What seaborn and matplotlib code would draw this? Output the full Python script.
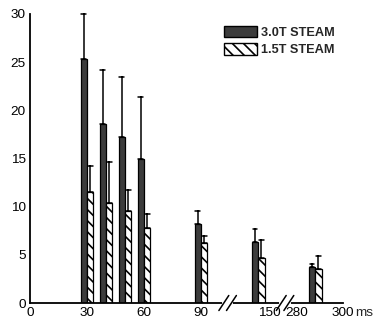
import numpy as np
import pandas as pd
import seaborn as sns
import matplotlib.pyplot as plt
from matplotlib.patches import Patch
import matplotlib.transforms as mtransforms

# echo times (ms) and signal values
te_ms = [30, 40, 50, 60, 90, 144, 288]
steam_3t = [25.3, 18.6, 17.2, 15.0, 8.2, 6.3, 3.7]
steam_3t_sd = [4.7, 5.6, 6.3, 6.4, 1.4, 1.4, 0.3]
steam_15t = [11.5, 10.4, 9.5, 7.8, 6.2, 4.7, 3.5]
steam_15t_sd = [2.7, 4.2, 2.2, 1.4, 0.8, 1.8, 1.4]
series = ["3.0T STEAM", "1.5T STEAM"]
xtick_ms = [0, 30, 60, 90, 150, 280, 300]
yticks = [0, 5, 10, 15, 20, 25, 30]

# broken x axis: ms -> axis position (two breaks)
break_ms = [0, 104, 128, 158, 275, 300]
break_pos = [0, 104, 104, 134.2, 134.2, 164.7]
gap_ms = [104, 158]


def to_axis(ms):
    return np.interp(ms, break_ms, break_pos)


# long table: bar height = min, error bar runs up to mean + sd
rows = []
for name, vals, sds in [(series[0], steam_3t, steam_3t_sd), (series[1], steam_15t, steam_15t_sd)]:
    for t, v, s in zip(te_ms, vals, sds):
        rows.append({"pos": to_axis(t), "val": v, "series": name})
        rows.append({"pos": to_axis(t), "val": v + s, "series": name})
df = pd.DataFrame(rows)

sns.set_style("white")
plt.rcParams["font.family"] = ["Liberation Sans", "DejaVu Sans"]
plt.rcParams["hatch.linewidth"] = 1.2

fig = plt.figure(figsize=(3.74, 3.26), dpi=100)
ax = fig.add_axes([30 / 374, 23 / 326, 313 / 374, 289 / 326])

sns.barplot(
    data=df, x="pos", y="val", hue="series", hue_order=series,
    native_scale=True, estimator="min",
    errorbar=lambda v: (v.min(), v.max()),
    palette=["#3c3c3c", "white"], edgecolor="black", linewidth=0.9,
    width=0.68, capsize=0.5,
    err_kws={"color": "black", "linewidth": 1.1},
    legend=False, ax=ax,
)
for p in ax.patches:
    if p.get_facecolor()[0] > 0.9:
        p.set_hatch("\\\\\\")
for ln in ax.lines:
    ln.set_clip_on(False)

ax.set_xlim(0, to_axis(300))
ax.set_ylim(0, 30)
ax.set_xticks(to_axis(xtick_ms))
ax.set_xticklabels([str(t) for t in xtick_ms])
ax.set_yticks(yticks)
ax.set_xlabel("")
ax.set_ylabel("")
sns.despine(ax=ax)
for s in ["left", "bottom"]:
    ax.spines[s].set_linewidth(1.3)
    ax.spines[s].set_color("black")
ax.tick_params(axis="both", direction="in", length=4, width=1.1, labelsize=9.7,
               colors="black", pad=3)
ax.text(1.04, -0.015, "ms", transform=ax.transAxes, fontsize=9.7, va="top", ha="left")

# break marks on the x axis
trans = mtransforms.blended_transform_factory(ax.transData, ax.transAxes)
for g in gap_ms:
    x0 = to_axis(g)
    ax.plot([x0 - 2, x0 + 2], [0, 0], color="white", lw=3, transform=trans,
            clip_on=False, zorder=5)
    for dx in (-2.0, 2.0):
        ax.plot([x0 + dx - 2.6, x0 + dx + 2.6], [-0.026, 0.026], color="black", lw=1.1,
                transform=trans, clip_on=False, zorder=6)

handles = [
    Patch(facecolor="#3c3c3c", edgecolor="black", linewidth=1.0, label=series[0]),
    Patch(facecolor="white", edgecolor="black", linewidth=1.0, hatch="\\\\\\", label=series[1]),
]
ax.legend(handles=handles, loc="upper left", bbox_to_anchor=(0.62, 0.96), frameon=False,
          prop={"weight": "bold", "size": 9.2}, handlelength=2.6, handleheight=1.0,
          handletextpad=0.3, labelspacing=0.35, borderpad=0, borderaxespad=0)

fig.savefig("out.png", dpi=100)
